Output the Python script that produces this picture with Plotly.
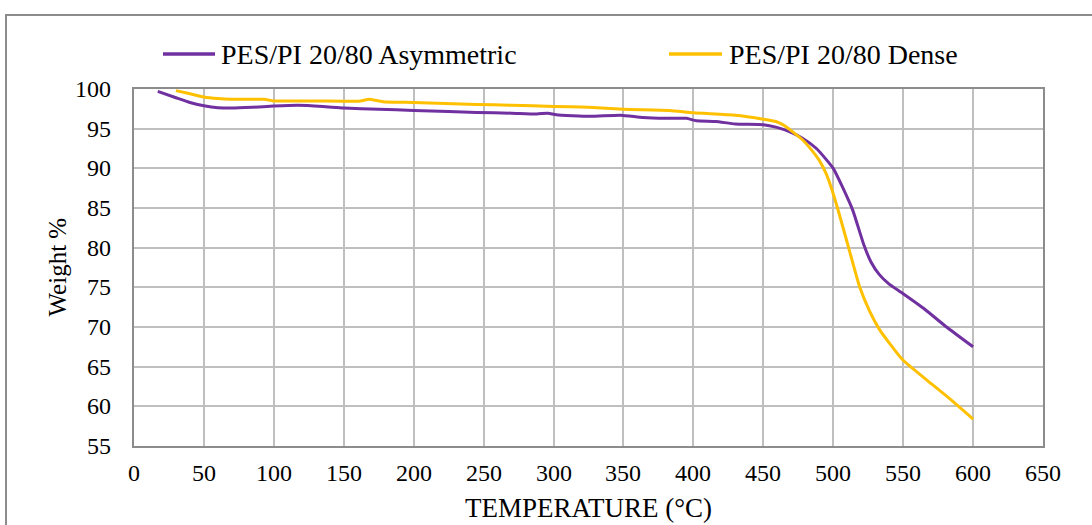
import plotly.graph_objects as go

# TGA curves: weight retained vs temperature
asym_name = "PES/PI 20/80 Asymmetric"
asym_temp = [17, 30, 40, 50, 60, 70, 85, 100, 117, 135, 150, 175, 200, 225, 245,
             270, 288, 296, 302, 326, 348, 364, 380, 395, 402, 416, 430, 450, 459,
             469, 478, 488, 500, 507, 514, 522, 527, 533, 540, 550, 565, 581, 600]
asym_wt = [99.7, 98.9, 98.3, 97.9, 97.65, 97.6, 97.7, 97.85, 97.95, 97.8, 97.6, 97.45,
           97.3, 97.15, 97.05, 96.95, 96.85, 96.95, 96.75, 96.55, 96.7, 96.4, 96.3, 96.3,
           96.0, 95.9, 95.6, 95.5, 95.2, 94.6, 93.8, 92.5, 90.0, 87.5, 84.7, 80.3, 78.2,
           76.6, 75.4, 74.2, 72.3, 70.0, 67.5]

dense_name = "PES/PI 20/80 Dense"
dense_temp = [30, 40, 50, 60, 69, 93, 100, 125, 150, 162, 168, 178, 200, 245, 270,
              300, 325, 350, 383, 400, 430, 450, 459, 465, 471, 478, 485, 490, 495,
              500, 505, 511, 519, 526, 533, 540, 550, 567, 583, 600]
dense_wt = [99.8, 99.4, 99.0, 98.8, 98.7, 98.7, 98.5, 98.5, 98.45, 98.5, 98.7, 98.4,
            98.3, 98.05, 97.95, 97.8, 97.7, 97.45, 97.3, 97.0, 96.7, 96.2, 95.9, 95.4,
            94.6, 93.6, 92.2, 91.0, 89.3, 86.8, 83.8, 80.0, 75.0, 72.0, 69.7, 68.0,
            65.8, 63.3, 61.0, 58.4]

x_ticks = list(range(0, 651, 50))
y_ticks = list(range(55, 101, 5))

PURPLE = "#7030A0"
GOLD = "#FFC000"
FONT = "Liberation Serif"

W, H = 1092, 525
ML, MR, MT, MB = 134, 49, 89, 79
PW, PH = W - ML - MR, H - MT - MB


def px(xp):
    return (xp - ML) / PW


def py(yp):
    return (H - MB - yp) / PH


fig = go.Figure()
fig.add_trace(go.Scatter(x=asym_temp, y=asym_wt, mode="lines", name=asym_name,
                         line=dict(color=PURPLE, width=3, shape="spline", smoothing=0.5),
                         showlegend=False))
fig.add_trace(go.Scatter(x=dense_temp, y=dense_wt, mode="lines", name=dense_name,
                         line=dict(color=GOLD, width=3, shape="spline", smoothing=0.5),
                         showlegend=False))

grid = dict(showgrid=True, gridcolor="#BFBFBF", gridwidth=1.5,
            showline=True, linecolor="#8C8C8C", linewidth=2, mirror=True,
            zeroline=False, ticks="", showticklabels=False)

fig.update_layout(
    width=W, height=H, margin=dict(l=ML, r=MR, t=MT, b=MB),
    paper_bgcolor="white", plot_bgcolor="white",
    font=dict(family=FONT, color="#000000"),
    xaxis=dict(range=[0, 650], tickmode="array", tickvals=x_ticks, **grid),
    yaxis=dict(range=[55, 100], tickmode="array", tickvals=y_ticks, **grid),
)

tick_font = dict(family=FONT, size=24, color="#000000")
annotations = []
# tick labels, serif, placed on the axis scales
for t in x_ticks:
    annotations.append(dict(text=str(t), xref="x", yref="paper", x=t, y=py(473),
                            xanchor="center", yanchor="middle", showarrow=False,
                            font=tick_font))
for t in y_ticks:
    annotations.append(dict(text=str(t), xref="paper", yref="y", x=px(113), y=t,
                            xanchor="right", yanchor="middle", showarrow=False,
                            font=tick_font))

annotations += [
    dict(text=asym_name, xref="paper", yref="paper", x=px(219), y=py(55), xanchor="left",
         yanchor="middle", showarrow=False, font=dict(family=FONT, size=28, color="#000")),
    dict(text=dense_name, xref="paper", yref="paper", x=px(727), y=py(55), xanchor="left",
         yanchor="middle", showarrow=False, font=dict(family=FONT, size=28, color="#000")),
    dict(text="Weight %", xref="paper", yref="paper", x=px(57), y=0.5, textangle=-90,
         xanchor="center", yanchor="middle", showarrow=False,
         font=dict(family=FONT, size=25, color="#000")),
    dict(text="TEMPERATURE (°C)", xref="paper", yref="paper", x=0.5, y=py(508),
         xanchor="center", yanchor="middle", showarrow=False,
         font=dict(family=FONT, size=27, color="#000")),
]

shapes = [
    # outer chart frame
    dict(type="rect", xref="paper", yref="paper", x0=px(6), x1=px(1110), y0=py(15), y1=py(540),
         line=dict(color="#8C8C8C", width=2), layer="below"),
    # legend swatches
    dict(type="line", xref="paper", yref="paper", x0=px(163), x1=px(215), y0=py(54), y1=py(54),
         line=dict(color=PURPLE, width=3.5)),
    dict(type="line", xref="paper", yref="paper", x0=px(669), x1=px(722), y0=py(54), y1=py(54),
         line=dict(color=GOLD, width=3.5)),
]

fig.update_layout(shapes=shapes, annotations=annotations)

fig.write_html("out.html")
